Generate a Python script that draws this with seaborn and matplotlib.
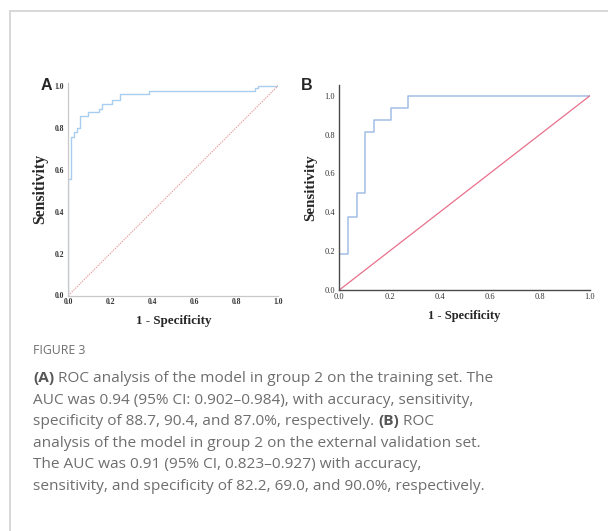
import matplotlib
matplotlib.use("Agg")
import numpy as np
import pandas as pd
import matplotlib.pyplot as plt
import seaborn as sns
from matplotlib.lines import Line2D

# ROC corner points (steps-post)
fpr_train = [0.0, 0.0, 0.013, 0.029, 0.040, 0.056, 0.095, 0.148, 0.159, 0.206, 0.246, 0.386, 0.889, 0.905, 1.0]
tpr_train = [0.0, 0.554, 0.755, 0.780, 0.800, 0.855, 0.872, 0.886, 0.913, 0.932, 0.960, 0.973, 0.987, 1.0, 1.0]

fpr_ext = [0.0, 0.0, 0.034, 0.069, 0.103, 0.138, 0.207, 0.276, 1.0]
tpr_ext = [0.0, 0.1875, 0.375, 0.5, 0.8125, 0.875, 0.9375, 1.0, 1.0]

chance = [0.0, 1.0]
ticks = [0.0, 0.2, 0.4, 0.6, 0.8, 1.0]
tick_labels = ["0.0", "0.2", "0.4", "0.6", "0.8", "1.0"]

caption_title = "FIGURE 3"
caption_lines = [
    [("(A)", True), (" ROC analysis of the model in group 2 on the training set. The", False)],
    [("AUC was 0.94 (95% CI: 0.902\u20130.984), with accuracy, sensitivity,", False)],
    [("specificity of 88.7, 90.4, and 87.0%, respectively. ", False), ("(B)", True), (" ROC", False)],
    [("analysis of the model in group 2 on the external validation set.", False)],
    [("The AUC was 0.91 (95% CI, 0.823\u20130.927) with accuracy,", False)],
    [("sensitivity, and specificity of 82.2, 69.0, and 90.0%, respectively.", False)],
]

df_a = pd.DataFrame({"fpr": fpr_train, "tpr": tpr_train})
df_b = pd.DataFrame({"fpr": fpr_ext, "tpr": tpr_ext})

sns.set_style("white")
plt.rcParams["font.family"] = ["Open Sans", "DejaVu Sans"]

W, H = 608, 531
fig = plt.figure(figsize=(W / 100, H / 100), dpi=100)


def fx(px):
    return px / W


def fy(py):
    return 1 - py / H


serif = "Liberation Serif"

# Panel A
axA = fig.add_axes([fx(68.3), fy(295.5), 210 / W, 212.5 / H])
sns.lineplot(data=df_a, x="fpr", y="tpr", ax=axA, color="#a9cdee", lw=1.0,
             drawstyle="steps-post", sort=False, estimator=None)
sns.lineplot(x=chance, y=chance, ax=axA, color="#e89a9a", lw=0.8,
             linestyle=(0, (1.2, 1.0)), sort=False, estimator=None)
axA.set_xlim(0, 1.0)
axA.set_ylim(0, 1.012)
for s in ["top", "right"]:
    axA.spines[s].set_visible(False)
for s in ["left", "bottom"]:
    axA.spines[s].set_color("#c8c8c8")
    axA.spines[s].set_linewidth(0.9)
axA.set_xticks(ticks)
axA.set_yticks(ticks)
axA.set_xticklabels(tick_labels, fontfamily=serif, fontweight="bold", fontsize=5.5, color="#333333")
axA.set_yticklabels(tick_labels, fontfamily=serif, fontweight="bold", fontsize=5.5, color="#333333")
axA.tick_params(axis="y", length=2, width=0.6, color="#c8c8c8", pad=1)
axA.tick_params(axis="x", length=0, pad=2)
axA.set_xlabel("1 - Specificity", fontfamily=serif, fontweight="bold", fontsize=9.4, labelpad=6)
axA.set_ylabel("Sensitivity", fontfamily=serif, fontweight="bold", fontsize=11.3, labelpad=5)
fig.text(fx(46), fy(85.5), "A", fontsize=11.5, fontweight="bold", family="Liberation Sans",
         ha="center", va="center")

# Panel B
axB = fig.add_axes([fx(339.3), fy(290), 250.7 / W, 205 / H])
sns.lineplot(data=df_b, x="fpr", y="tpr", ax=axB, color="#a3bde6", lw=1.1,
             drawstyle="steps-post", sort=False, estimator=None)
sns.lineplot(x=chance, y=chance, ax=axB, color="#e8708c", lw=0.9, sort=False, estimator=None)
axB.set_xlim(0, 1.0)
axB.set_ylim(0, 1.055)
for s in ["top", "right"]:
    axB.spines[s].set_visible(False)
for s in ["left", "bottom"]:
    axB.spines[s].set_color("#4a4a4a")
    axB.spines[s].set_linewidth(1.0)
axB.set_xticks(ticks)
axB.set_yticks(ticks)
axB.set_xticklabels(tick_labels, fontfamily=serif, fontsize=6, color="#333333")
axB.set_yticklabels(tick_labels, fontfamily=serif, fontsize=6, color="#333333")
axB.tick_params(axis="y", length=2, width=0.6, color="#4a4a4a", pad=1)
axB.tick_params(axis="x", length=0, pad=2)
axB.set_xlabel("1 - Specificity", fontfamily=serif, fontweight="bold", fontsize=9, labelpad=7)
axB.set_ylabel("Sensitivity", fontfamily=serif, fontweight="bold", fontsize=10.8, labelpad=5)
fig.text(fx(307), fy(86), "B", fontsize=11.5, fontweight="bold", family="Liberation Sans",
         ha="center", va="center")

for ax in (axA, axB):
    ax.set_facecolor("none")

# Frame lines
fig.add_artist(Line2D([fx(10), 1.0], [fy(11), fy(11)], transform=fig.transFigure,
                      color="#d4d4d4", lw=1.3))
fig.add_artist(Line2D([fx(10), fx(10)], [fy(11), 0.0], transform=fig.transFigure,
                      color="#d4d4d4", lw=1.3))

# Caption
cap_color = "#6e6e6e"
fig.text(fx(33), fy(354), caption_title, fontsize=8.8, color=cap_color, ha="left", va="baseline")

fig.canvas.draw()
renderer = fig.canvas.get_renderer()
base0, step = 382.3, 21.55
for i, segs in enumerate(caption_lines):
    x = fx(33)
    for txt, bold in segs:
        t = fig.text(x, fy(base0 + i * step), txt, fontsize=11.1,
                     color="#555555" if bold else cap_color,
                     fontweight="bold" if bold else "normal",
                     ha="left", va="baseline")
        bb = t.get_window_extent(renderer=renderer)
        x = x + bb.width / (W * fig.dpi / 100)

fig.savefig("out.png", dpi=100)
